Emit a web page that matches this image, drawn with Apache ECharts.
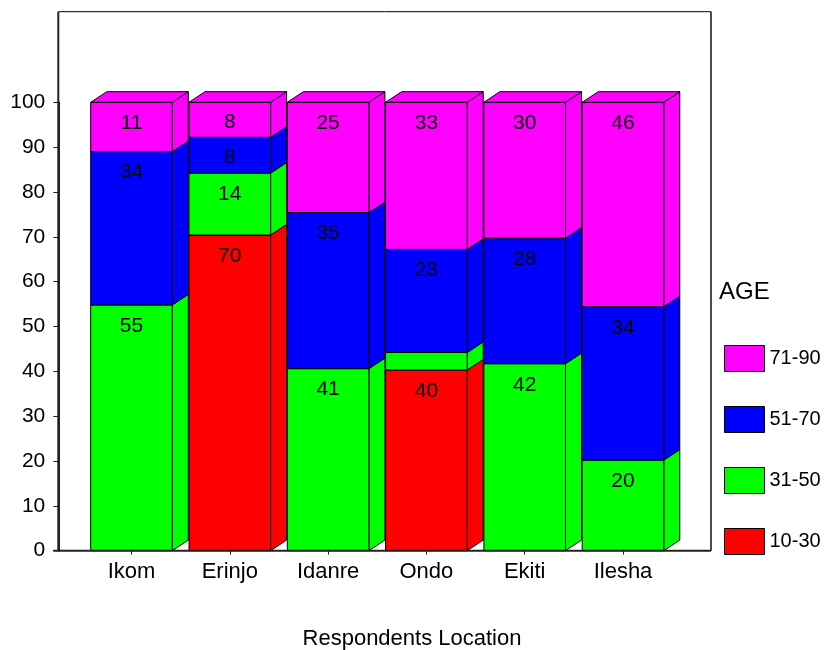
<!DOCTYPE html>
<html><head><meta charset="utf-8">
<script src="https://cdn.jsdelivr.net/npm/echarts@6/dist/echarts.min.js"></script>
<style>html,body{margin:0;padding:0;background:#fff}#c{width:829px;height:650px}</style>
</head><body><div id="c"></div>
<script>
// ---- data ----
const categories = ['Ikom', 'Erinjo', 'Idanre', 'Ondo', 'Ekiti', 'Ilesha'];
const ageGroups = ['10-30', '31-50', '51-70', '71-90'];
const age10_30 = [0, 70.4, 0, 40.3, 0, 0];
const age31_50 = [54.8, 13.8, 40.6, 3.9, 41.7, 20.2];
const age51_70 = [34.2, 8.0, 34.8, 23.0, 28.0, 34.2];
const age71_90 = [11.0, 7.8, 24.6, 32.8, 30.3, 45.6];
const yMin = 0, yMax = 100, yStep = 10;
const legendOrder = ['71-90', '51-70', '31-50', '10-30'];
const xTitle = 'Respondents Location';
const legendTitle = 'AGE';

const groupValues = [age10_30, age31_50, age51_70, age71_90];
const colors = ['#ff0000', '#00ff00', '#0000ff', '#ff00ff'];
const FONT = '"Liberation Sans", Arial, sans-serif';

// build stacked rows [catIndex, base, top, value, isTop]
const stacked = groupValues.map(() => []);
categories.forEach((c, ci) => {
  let base = 0;
  let lastIdx = -1;
  groupValues.forEach((arr, gi) => { if (arr[ci] > 0) lastIdx = gi; });
  groupValues.forEach((arr, gi) => {
    const v = arr[ci];
    stacked[gi].push([ci, base, base + v, v, gi === lastIdx ? 1 : 0]);
    base += v;
  });
});

const DX = 16, DY = -10.6;
function makeRender(gi) {
  const color = colors[gi];
  return function (params, api) {
    const ci = api.value(0), base = api.value(1), top = api.value(2), val = api.value(3), isTop = api.value(4);
    if (!(val > 0)) return null;
    const p0 = api.coord([ci, base]);
    const p1 = api.coord([ci, top]);
    const band = api.size([1, 0])[0];
    const w = band * 0.83;
    const L = p0[0] - w / 2, R = p0[0] + w / 2;
    const yb = p0[1], yt = p1[1];
    const st = { fill: color, stroke: '#000', lineWidth: 1 };
    const children = [
      { type: 'polygon', shape: { points: [[R, yb], [R + DX, yb + DY], [R + DX, yt + DY], [R, yt]] }, style: st },
      { type: 'rect', shape: { x: L, y: yt, width: w, height: yb - yt }, style: st }
    ];
    if (isTop) {
      children.push({ type: 'polygon', shape: { points: [[L, yt], [L + DX, yt + DY], [R + DX, yt + DY], [R, yt]] }, style: st });
    }
    if (val >= 5) {
      children.push({ type: 'text', style: {
        text: String(Math.round(val)), x: p0[0], y: yt + Math.min(21, (yb - yt) / 2 + 2),
        align: 'center', verticalAlign: 'middle', font: '21px ' + FONT, fill: '#000' } });
    }
    return { type: 'group', children: children };
  };
}

const chart = echarts.init(document.getElementById('c'), null, { renderer: 'canvas' });
const gridLeft = 82.35, gridTop = 102.3, gridW = 589.8, gridH = 448.4;
const frameL = 58.3, frameR = 711, frameT = 11.7, frameB = gridTop + gridH;

chart.setOption({
  animation: false,
  backgroundColor: '#fff',
  textStyle: { fontFamily: FONT },
  title: { text: legendTitle, left: 719, top: 280, padding: 0,
    textStyle: { fontSize: 24, fontWeight: 'normal', color: '#000', fontFamily: FONT } },
  legend: {
    orient: 'vertical', left: 724, top: 345, padding: 0,
    itemWidth: 40, itemHeight: 26, itemGap: 34, selectedMode: false,
    icon: 'rect',
    itemStyle: { borderColor: '#000', borderWidth: 1 },
    textStyle: { fontSize: 20, color: '#000', fontFamily: FONT },
    data: legendOrder
  },
  grid: { left: gridLeft, top: gridTop, width: gridW, height: gridH },
  xAxis: {
    type: 'category', data: categories,
    axisLine: { show: false },
    axisTick: { show: true, alignWithLabel: true, length: 4, lineStyle: { color: '#222', width: 1 } },
    axisLabel: { fontSize: 22, color: '#000', margin: 10, fontFamily: FONT }
  },
  yAxis: {
    type: 'value', min: yMin, max: yMax, interval: yStep, offset: gridLeft - frameL,
    axisLine: { show: true, lineStyle: { color: '#222', width: 2 } },
    axisTick: { show: true, length: 5, lineStyle: { color: '#222', width: 1 } },
    axisLabel: { fontSize: 21, color: '#000', margin: 13, fontFamily: FONT },
    splitLine: { show: false }
  },
  graphic: [
    { type: 'line', shape: { x1: frameL, y1: frameT, x2: frameR, y2: frameT }, style: { stroke: '#000', lineWidth: 1 }, z: 50 },
    { type: 'line', shape: { x1: frameR, y1: frameT, x2: frameR, y2: frameB }, style: { stroke: '#111', lineWidth: 1.5 }, z: 50 },
    { type: 'line', shape: { x1: frameL, y1: frameT, x2: frameL, y2: frameB }, style: { stroke: '#222', lineWidth: 2 }, z: 50 },
    { type: 'line', shape: { x1: frameL - 5, y1: frameB, x2: frameR, y2: frameB }, style: { stroke: '#222', lineWidth: 2 }, z: 50 },
    { type: 'text', x: 412, y: 639, style: { text: xTitle, align: 'center', verticalAlign: 'middle', font: '22px ' + FONT, fill: '#000' } }
  ],
  series: ageGroups.map((name, gi) => ({
    type: 'custom', name: name,
    itemStyle: { color: colors[gi] },
    renderItem: makeRender(gi),
    encode: { x: 0, y: 2 },
    data: stacked[gi],
    z: 2 + gi
  }))
});
</script></body></html>
